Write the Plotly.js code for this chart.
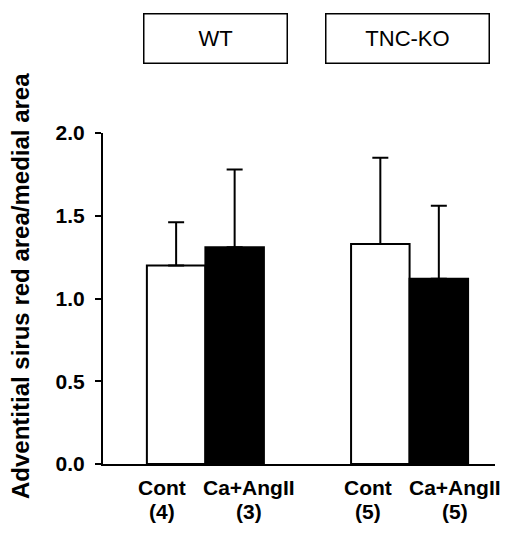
<!DOCTYPE html>
<html>
<head>
<meta charset="utf-8">
<script src="https://cdn.plot.ly/plotly-3.0.1.min.js"></script>
<style>html,body{margin:0;padding:0;background:#fff;}#chart{width:522px;height:533px;}</style>
</head>
<body>
<div id="chart"></div>
<script>
// Data
const groups = ["WT", "TNC-KO"];
const treatments = ["Cont", "Ca+AngII", "Cont", "Ca+AngII"];
const counts = ["(4)", "(3)", "(5)", "(5)"];
const groupOf = [0, 0, 1, 1];
const means = [1.20, 1.31, 1.33, 1.12];
const sems = [0.26, 0.47, 0.52, 0.44];
const barColors = ["#ffffff", "#000000", "#ffffff", "#000000"];
const yTickVals = [0, 0.5, 1.0, 1.5, 2.0];
const yTickText = ["0.0", "0.5", "1.0", "1.5", "2.0"];
const yTitle = "Adventitial sirus red area/medial area";

// ---- layout ----
const groupGap = 2.49;
const xs = means.map((_, i) => i + groupOf[i] * (groupGap - 1));
const labelShift = [-14, 14, -12, 16];

const FONT = "Arial, 'Liberation Sans', sans-serif";
const L = 103, R = 27, T = 133, B = 69, W = 522, H = 533;
const pw = W - L - R, ph = H - T - B;
const px = v => (v - L) / pw;
const py = v => (H - B - v) / ph;

const trace = {
  type: "bar",
  x: xs,
  y: means,
  width: 1,
  marker: { color: barColors, line: { color: "#000", width: 2 } },
  error_y: { type: "data", array: sems, arrayminus: means.map(() => 0), symmetric: false, color: "#000", thickness: 2, width: 8 },
  hoverinfo: "none"
};

const annotations = [
  { xref: "paper", yref: "paper", x: px(20), y: py(286), textangle: -90, text: yTitle, showarrow: false,
    xanchor: "center", yanchor: "middle", font: { size: 24, family: FONT, weight: "bold" } },
  { xref: "paper", yref: "paper", x: px(215.5), y: py(39), text: groups[0], showarrow: false,
    xanchor: "center", yanchor: "middle",
    font: { size: 22, family: FONT }, bordercolor: "#000", borderwidth: 1.5, borderpad: 0, width: 142, height: 48, bgcolor: "#fff" },
  { xref: "paper", yref: "paper", x: px(407.5), y: py(39), text: groups[1], showarrow: false,
    xanchor: "center", yanchor: "middle",
    font: { size: 22, family: FONT }, bordercolor: "#000", borderwidth: 1.5, borderpad: 0, width: 162, height: 48, bgcolor: "#fff" }
];
xs.forEach((x, i) => {
  annotations.push({ xref: "x", yref: "paper", x: x, xshift: labelShift[i], y: py(487), text: treatments[i],
    showarrow: false, xanchor: "center", yanchor: "middle", font: { size: 21, family: FONT, weight: "bold" } });
  annotations.push({ xref: "x", yref: "paper", x: x, xshift: labelShift[i], y: py(511), text: counts[i],
    showarrow: false, xanchor: "center", yanchor: "middle", font: { size: 21, family: FONT, weight: "bold" } });
});

const layout = {
  width: W, height: H,
  margin: { l: L, r: R, t: T, b: B },
  paper_bgcolor: "#fff", plot_bgcolor: "#fff",
  showlegend: false,
  font: { family: FONT, color: "#000" },
  xaxis: {
    range: [-1.25, 5.45],
    showticklabels: false,
    ticks: "", showgrid: false, zeroline: false,
    showline: true, linecolor: "#000", linewidth: 2,
    fixedrange: true
  },
  yaxis: {
    range: [0, 2.0],
    tickvals: yTickVals,
    ticktext: yTickText,
    ticks: "outside", ticklen: 6, tickwidth: 2, tickcolor: "#000",
    ticklabelstandoff: 6,
    showgrid: false, zeroline: false,
    showline: true, linecolor: "#000", linewidth: 2,
    tickfont: { size: 21, family: FONT, weight: "bold" },
    fixedrange: true
  },
  annotations: annotations
};

Plotly.newPlot("chart", [trace], layout, { displayModeBar: false, staticPlot: true });
</script>
</body>
</html>
